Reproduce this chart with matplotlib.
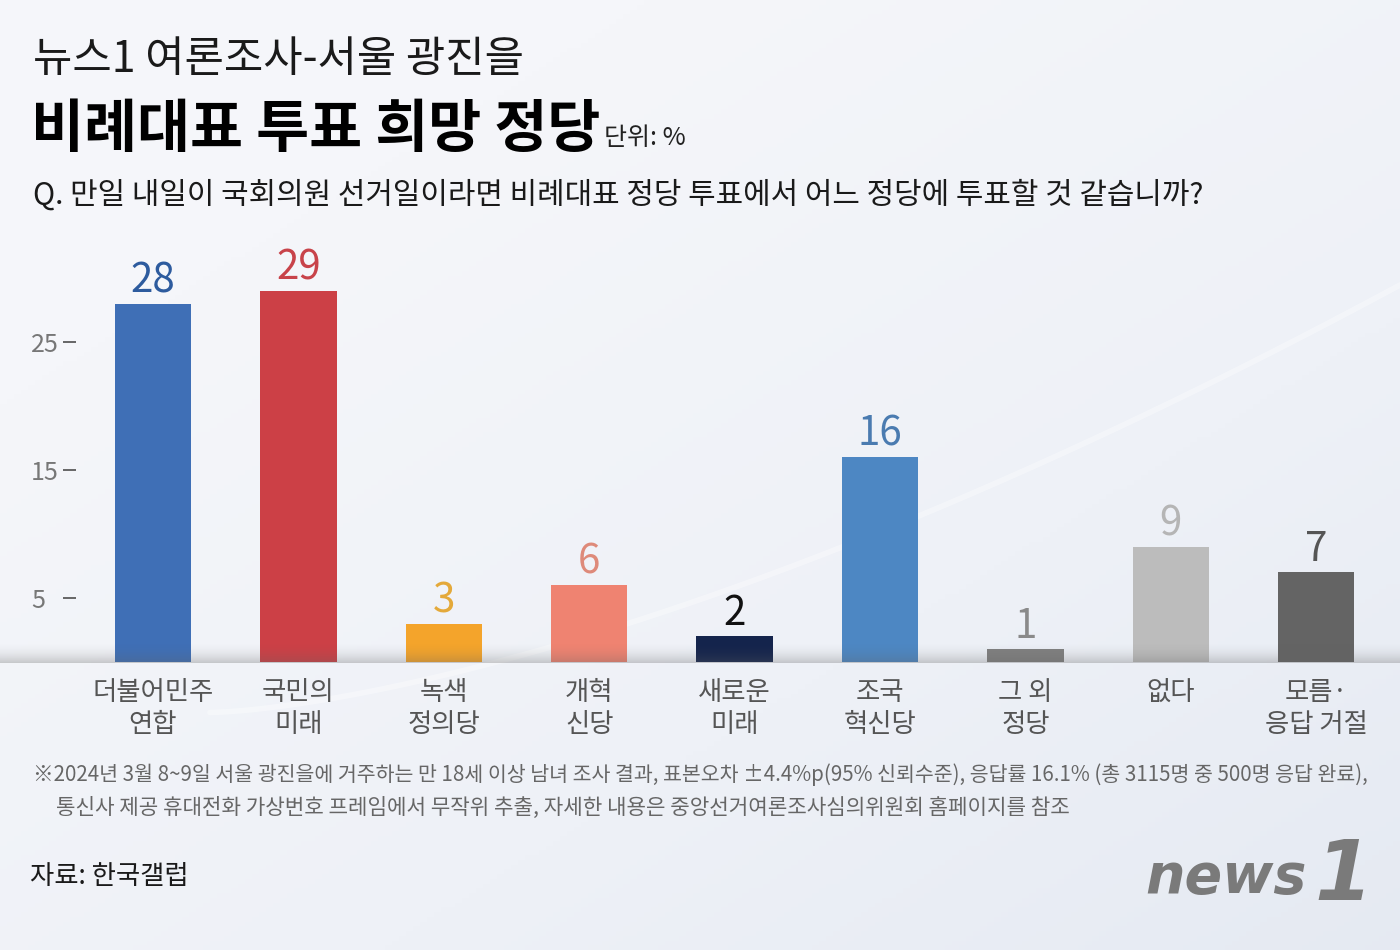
import matplotlib
matplotlib.use("Agg")
import matplotlib.pyplot as plt
import numpy as np
from matplotlib.colors import LinearSegmentedColormap

plt.rcParams['font.family'] = ['Noto Sans CJK KR', 'DejaVu Sans']

# ---- data ----
categories = ['더불어민주\n연합', '국민의\n미래', '녹색\n정의당', '개혁\n신당', '새로운\n미래',
              '조국\n혁신당', '그 외\n정당', '없다', '모름·\n응답 거절']
values = [28, 29, 3, 6, 2, 16, 1, 9, 7]
bar_colors = ['#3f6fb6', '#cc4046', '#f4a42b', '#ef8371', '#14244c',
              '#4d87c3', '#808080', '#bcbcbc', '#646464']
label_colors = ['#2d5b9e', '#c8434a', '#e4a93a', '#de8a7a', '#111111',
                '#4a7bb0', '#8a8a8a', '#b5b5b5', '#555555']
yticks = [5, 15, 25]
ytick_labels = ['5', '15', '25']

title_top = '뉴스1 여론조사-서울 광진을'
title_main = '비례대표 투표 희망 정당'
unit_text = '단위: %'
question = 'Q. 만일 내일이 국회의원 선거일이라면 비례대표 정당 투표에서 어느 정당에 투표할 것 같습니까?'
note1 = '※2024년 3월 8~9일 서울 광진을에 거주하는 만 18세 이상 남녀 조사 결과, 표본오차 ±4.4%p(95% 신뢰수준), 응답률 16.1% (총 3115명 중 500명 응답 완료),'
note2 = '통신사 제공 휴대전화 가상번호 프레임에서 무작위 추출, 자세한 내용은 중앙선거여론조사심의위원회 홈페이지를 참조'
source = '자료: 한국갤럽'

W, H = 1400, 950
fig = plt.figure(figsize=(W / 100, H / 100), dpi=100)

# background gradient
bg = fig.add_axes([0, 0, 1, 1], zorder=0)
bg.set_axis_off()
yy, xx = np.mgrid[0:1:200j, 0:1:200j]
t = np.clip(0.55 * xx + 0.6 * (1 - yy) - 0.25, 0, 1)
cmap_bg = LinearSegmentedColormap.from_list('bg', ['#f5f6fa', '#eef1f7', '#e3e8f1'])
bg.imshow(t, cmap=cmap_bg, extent=[0, 1, 0, 1], aspect='auto', origin='lower', vmin=0, vmax=1)
# faint decorative swoosh
s = np.linspace(0, 1, 200)
sx = 0.15 + 0.85 * s
sy = 0.25 + 0.45 * s ** 1.5
bg.plot(sx, sy, color='white', lw=4, alpha=0.35, solid_capstyle='round')
bg.set_xlim(0, 1)
bg.set_ylim(0, 1)

# main axes
ax_left_px, base_px, top_px = 76, 662, 278
ax = fig.add_axes([ax_left_px / W, 1 - base_px / H, 1 - ax_left_px / W, (base_px - top_px) / H], zorder=2)
ax.patch.set_alpha(0)
x = np.arange(len(values))
ax.bar(x, values, width=0.525, color=bar_colors, zorder=2)
ax.set_ylim(0, 30)
ax.set_xlim(-(153 - ax_left_px) / 145.4, (W - 153) / 145.4)
for xi, v, c in zip(x, values, label_colors):
    ax.text(xi, v + 0.2, str(v), ha='center', va='bottom', fontsize=29, color=c, zorder=3)

for sp in ax.spines.values():
    sp.set_visible(False)
ax.set_xticks(x)
ax.set_xticklabels(categories, fontsize=19, color='#555555', linespacing=1.25, va='top')
ax.tick_params(axis='x', length=0, pad=12)
ax.set_yticks(yticks)
ax.set_yticklabels(ytick_labels, fontsize=18, color='#777777', ha='left')
ax.tick_params(axis='y', length=9.5, width=1.4, color='#666666', pad=23)

# baseline shadow band
band = fig.add_axes([0, 1 - (base_px + 1) / H, 1, 22 / H], zorder=3)
band.set_axis_off()
g = np.linspace(0, 1, 60)
rgba = np.zeros((60, 1, 4))
rgba[:, 0, :3] = 0.38
rgba[:, 0, 3] = (g ** 2.0) * 0.30
band.imshow(rgba, extent=[0, 1, 0, 1], aspect='auto', origin='upper')
band.set_xlim(0, 1)
band.set_ylim(0, 1)

# titles
fig.text(33 / W, 1 - 60 / H, title_top, fontsize=30.8, color='#1a1a1a', va='center', ha='left', fontweight='light')
fig.text(31 / W, 1 - 130 / H, title_main, fontsize=41.5, color='#000000', va='center', ha='left', fontweight='bold')
fig.text(604 / W, 1 - 138 / H, unit_text, fontsize=18, color='#222222', va='center', ha='left')
fig.text(33 / W, 1 - 195 / H, question, fontsize=21.5, color='#1a1a1a', va='center', ha='left')

# notes
fig.text(33 / W, 1 - 775 / H, note1, fontsize=14.8, color='#666666', va='center', ha='left')
fig.text(56 / W, 1 - 808 / H, note2, fontsize=15.3, color='#666666', va='center', ha='left')
fig.text(30 / W, 1 - 877 / H, source, fontsize=19, color='#1a1a1a', va='center', ha='left')

# logo
fig.text(1145 / W, 1 - 878 / H, 'news', fontsize=40, color='#7a7a7a', va='center', ha='left',
         fontweight='bold', style='italic', family='DejaVu Sans')
fig.text(1314 / W, 1 - 876 / H, '1', fontsize=60, color='#7a7a7a', va='center', ha='left',
         fontweight='bold', style='italic', family='DejaVu Sans')

fig.savefig('out.png', dpi=100)
